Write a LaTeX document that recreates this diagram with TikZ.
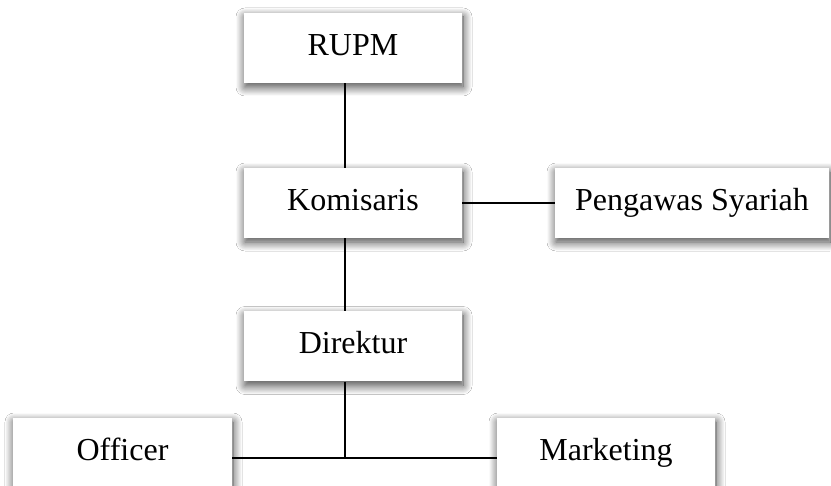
\documentclass[tikz,border=0pt]{standalone}
\usepackage{fontspec}
\setmainfont{Liberation Serif}
\usetikzlibrary{shadows.blur}
\begin{document}
\begin{tikzpicture}[x=1pt,y=-1pt,
  box/.style={fill=white, inner sep=0pt, minimum height=70pt,
    text height=22pt, text depth=7pt,
    font=\fontsize{32}{38}\selectfont,
    blur shadow={shadow xshift=1pt, shadow yshift=-4pt, shadow blur radius=9pt, shadow blur steps=16, shadow opacity=75}},
  link/.style={line width=1.5pt}]
\useasboundingbox (0,0) rectangle (831,486);
\fill[white] (0,0) rectangle (831,486);
\node[box, minimum width=218pt] (rupm) at (353,48) {RUPM};
\node[box, minimum width=218pt] (kom) at (353,203) {Komisaris};
\node[box, minimum width=274pt] (pga) at (692,203) {Pengawas Syariah};
\node[box, minimum width=218pt] (dir) at (353,346.5) {Direktur};
\node[box, minimum width=219pt] (off) at (122.5,453) {Officer};
\node[box, minimum width=218pt] (mkt) at (606,453) {Marketing};
\coordinate (v) at (345,0);
\coordinate (j) at (345,458);
\draw[link] (rupm.south -| v) -- (kom.north -| v);
\draw[link] (kom.south -| v) -- (dir.north -| v);
\draw[link] (kom.east) -- (pga.west);
\draw[link] (dir.south -| v) -- (j);
\draw[link] (off.east |- j) -- (mkt.west |- j);
\end{tikzpicture}
\end{document}
